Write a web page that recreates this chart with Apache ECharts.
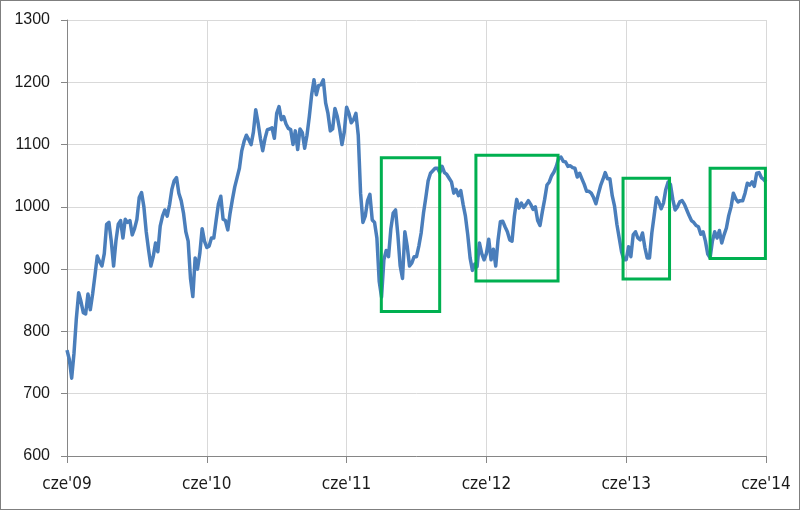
<!DOCTYPE html>
<html><head><meta charset="utf-8">
<script src="https://cdn.jsdelivr.net/npm/echarts@6/dist/echarts.min.js"></script>
<style>
html,body{margin:0;padding:0;background:#fff}
#c{position:absolute;left:0;top:0;width:800px;height:510px}
#frame{position:absolute;left:0;top:0;width:800px;height:510px;box-sizing:border-box;border:1px solid #7f7f7f;pointer-events:none}
</style>
</head><body><div id="c"></div><div id="frame"></div>
<script>
// x axis: months since June 2009, one reading every 0.2 month
const stepMonths = 0.2;
const xTickLabels = ["cze'09", "cze'10", "cze'11", "cze'12", "cze'13", "cze'14"];
const yTicks = [600, 700, 800, 900, 1000, 1100, 1200, 1300];
const values = [
770,755,725,765,820,862,848,830,828,860,
835,860,890,921,912,905,925,972,975,945,
905,945,972,978,950,980,975,978,955,965,
980,1015,1023,1000,960,931,905,920,942,928,
969,985,995,985,1003,1028,1042,1047,1022,1010,
990,960,945,885,856,918,900,925,965,945,
935,937,950,950,978,1005,1017,980,978,963,
990,1012,1032,1047,1062,1090,1105,1115,1108,1100,
1120,1156,1135,1110,1090,1110,1124,1125,1127,1110,
1150,1161,1140,1145,1133,1126,1124,1100,1122,1092,
1125,1119,1094,1115,1145,1180,1204,1180,1195,1196,
1204,1167,1150,1122,1125,1158,1145,1125,1100,1120,
1160,1150,1135,1140,1150,1115,1022,975,985,1010,
1020,979,975,950,880,855,915,930,920,965,
990,995,955,905,885,960,937,905,910,920,
920,937,958,990,1015,1042,1054,1058,1062,1062,
1055,1065,1055,1052,1046,1040,1022,1028,1018,1026,
1004,985,955,918,898,908,904,942,925,915,
925,948,915,932,905,947,976,977,968,960,
947,945,985,1012,998,1006,999,1004,1010,1004,
996,1000,978,970,992,1012,1035,1040,1050,1056,
1065,1078,1080,1073,1072,1065,1066,1063,1062,1048,
1054,1045,1036,1025,1025,1022,1015,1005,1020,1034,
1044,1055,1045,1045,1018,1001,972,950,928,915,
915,936,920,955,960,950,947,958,935,918,
918,958,986,1015,1008,997,1006,1028,1040,1036,
1012,995,1000,1008,1010,1004,995,986,978,975,
970,968,956,960,945,924,918,945,960,950,
962,942,955,966,986,1000,1022,1013,1008,1010,
1010,1022,1038,1035,1040,1033,1054,1055,1047,1044,
1040
];
// highlight boxes: [fromMonth, toMonth, lowValue, highValue]
const boxes = [
  [26.98, 31.99, 832, 1079],
  [35.1, 42.15, 881, 1083],
  [47.73, 51.72, 884, 1046],
  [55.2, 59.95, 917, 1062]
];

const chart = echarts.init(document.getElementById('c'), null, {renderer: 'canvas'});
const seriesData = values.map((v, i) => [i * stepMonths, v]);
chart.setOption({
  animation: false,
  backgroundColor: '#ffffff',
  grid: {left: 67, right: 34, top: 20, bottom: 54, containLabel: false},
  xAxis: {
    type: 'value', min: 0, max: 60, interval: 12,
    axisLine: {show: true, lineStyle: {color: '#868686', width: 1}},
    axisTick: {show: true, length: 7, lineStyle: {color: '#868686'}},
    splitLine: {show: true, lineStyle: {color: '#d9d9d9', width: 1}},
    axisLabel: {
      margin: 20, color: '#1a1a1a', fontSize: 17,
      fontFamily: '"Liberation Sans Narrow", "DejaVu Sans Condensed", sans-serif',
      formatter: v => xTickLabels[Math.round(v / 12)],
      showMaxLabel: true, showMinLabel: true
    }
  },
  yAxis: {
    type: 'value', min: yTicks[0], max: yTicks[yTicks.length - 1], interval: 100,
    axisLine: {show: true, lineStyle: {color: '#868686', width: 1}},
    axisTick: {show: true, length: 6, lineStyle: {color: '#868686'}},
    splitLine: {show: true, lineStyle: {color: '#d9d9d9', width: 1}},
    axisLabel: {
      margin: 17, color: '#1a1a1a', fontSize: 16,
      fontFamily: '"Liberation Sans", Arial, sans-serif',
      formatter: v => String(v)
    }
  },
  series: [
    {
      type: 'line', data: seriesData, showSymbol: false, symbol: 'none',
      lineStyle: {color: '#4a7ebb', width: 3.5, join: 'round'},
      z: 2
    },
    {
      type: 'line', data: [], z: 10,
      markArea: {
        silent: true, z: 10,
        itemStyle: {color: 'rgba(0,0,0,0)', borderColor: '#00b050', borderWidth: 3},
        data: boxes.map(b => [{coord: [b[0], b[3]]}, {coord: [b[1], b[2]]}])
      }
    }
  ]
});
</script>
</body></html>
